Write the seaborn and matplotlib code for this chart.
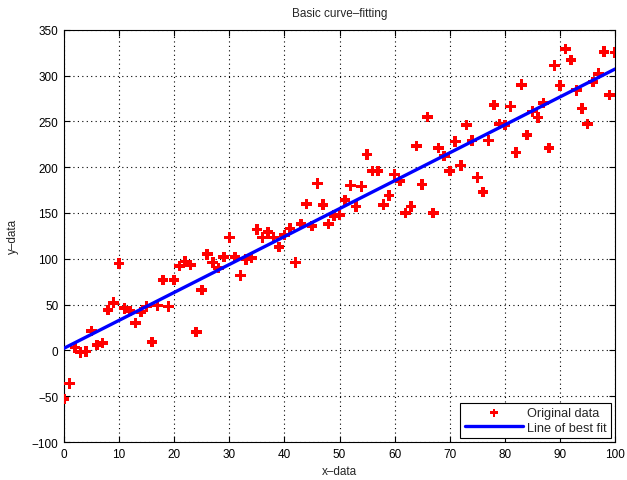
import numpy as np
import pandas as pd
import matplotlib
matplotlib.use("Agg")
import matplotlib.pyplot as plt
import seaborn as sns

x_data = list(range(0, 101))
y_data = [
    -53, -36, 3, -2, -1, 21, 6, 8, 44, 52,
    95, 46, 43, 30, 42, 48, 9, 49, 77, 48,
    77, 92, 97, 93, 20, 66, 105, 96, 90, 102,
    123, 102, 82, 99, 101, 132, 123, 129, 123, 113,
    126, 133, 96, 138, 160, 136, 182, 159, 138, 147,
    148, 164, 180, 157, 179, 214, 196, 196, 159, 169,
    192, 185, 150, 157, 223, 181, 255, 150, 221, 212,
    196, 228, 202, 246, 229, 189, 173, 229, 268, 247,
    246, 266, 216, 290, 235, 261, 254, 270, 221, 311,
    289, 329, 317, 284, 264, 247, 293, 302, 326, 279,
    325,
]
x_ticks = [0, 10, 20, 30, 40, 50, 60, 70, 80, 90, 100]
y_ticks = [-100, -50, 0, 50, 100, 150, 200, 250, 300, 350]

sns.set_theme(style="white")
plt.rcParams['font.family'] = ['Liberation Sans', 'DejaVu Sans']

df = pd.DataFrame({"x": x_data, "y": y_data})
coef = np.polyfit(df["x"], df["y"], 1)
fit = pd.DataFrame({"x": [0, 100]})
fit["y"] = np.polyval(coef, fit["x"])

fig = plt.figure(figsize=(6.27, 4.81), dpi=100)
ax = fig.add_axes([0.102, 0.079, 0.879, 0.857])

sns.scatterplot(data=df, x="x", y="y", ax=ax, marker="P", s=58, color="red",
                edgecolor="none", linewidth=0, label="Original data", zorder=3)
sns.lineplot(data=fit, x="x", y="y", ax=ax, color="blue", linewidth=2.4,
             label="Line of best fit", zorder=4)

ax.set_xlim(0, 100)
ax.set_ylim(-100, 350)
ax.set_xticks(x_ticks)
ax.set_yticks(y_ticks)
ax.grid(True, color="black", linestyle=(0, (1, 3)), linewidth=0.8)
ax.set_axisbelow(True)
for s in ax.spines.values():
    s.set_color("black")
    s.set_linewidth(0.8)
ax.tick_params(direction="in", length=4, width=0.8, labelsize=8.5, colors="black",
               top=True, right=True, bottom=True, left=True, pad=4)
ax.set_xlabel("x\u2013data", fontsize=8.5, labelpad=4)
ax.set_ylabel("y\u2013data", fontsize=8.5, labelpad=9)
ax.set_title("Basic curve\u2013fitting", fontsize=8.5, pad=10)

leg = ax.legend(loc="lower right", fontsize=9.2, frameon=True, fancybox=False,
                edgecolor="black", framealpha=1, borderaxespad=0.3,
                handlelength=4.6, handletextpad=0.3, borderpad=0.35,
                labelspacing=0.2, markerscale=0.75)
leg.get_frame().set_linewidth(0.8)

fig.savefig("out.png", dpi=100)
